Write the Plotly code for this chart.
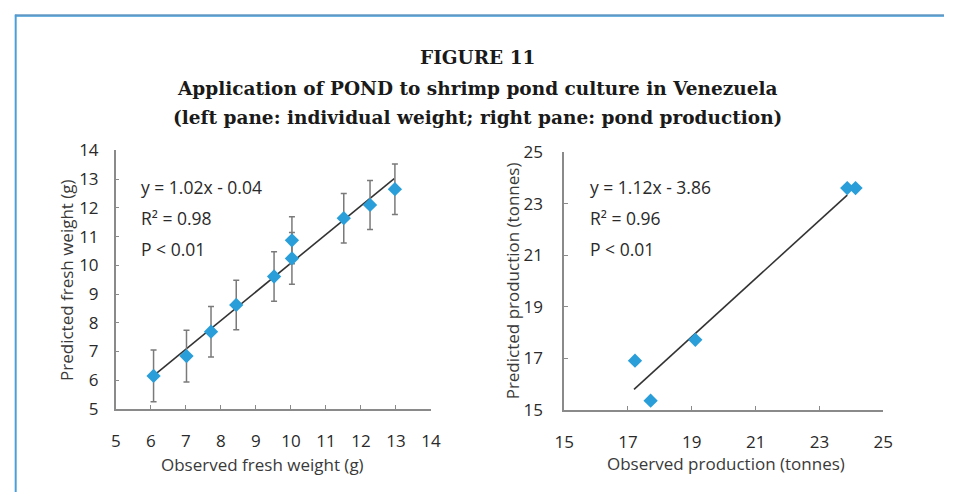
import plotly.graph_objects as go

# ---- data ----
obs_weight = [6.08, 7.02, 7.72, 8.44, 9.52, 10.03, 10.03, 11.51, 12.26, 12.97]
pred_weight = [6.15, 6.84, 7.69, 8.62, 9.61, 10.87, 10.24, 11.64, 12.10, 12.65]
err_weight = [0.90, 0.90, 0.88, 0.86, 0.86, 0.82, 0.90, 0.86, 0.85, 0.88]
fit_weight_x = [6.10, 12.95]
fit_weight_y = [6.18, 13.02]

obs_prod = [17.22, 17.71, 19.11, 23.87, 24.13]
pred_prod = [16.91, 15.36, 17.72, 23.61, 23.61]
fit_prod_x = [17.19, 23.87]
fit_prod_y = [15.80, 23.34]

weight_ticks = list(range(5, 15))
prod_ticks = [15, 17, 19, 21, 23, 25]

title_lines = ["FIGURE 11",
               "Application of POND to shrimp pond culture in Venezuela",
               "(left pane: individual weight; right pane: pond production)"]
left_stats = ["y = 1.02x - 0.04", "R\u00b2 = 0.98", "P < 0.01"]
right_stats = ["y = 1.12x - 3.86", "R\u00b2 = 0.96", "P < 0.01"]
left_titles = ["Observed fresh weight (g)", "Predicted fresh weight (g)"]
right_titles = ["Observed production (tonnes)", "Predicted production (tonnes)"]

W, H = 954, 503
BLUE = "#2a9ed8"
AX = "#8a8a8a"
TXT = "#2a2a2a"
FONT = "Open Sans"

fig = go.Figure()

fig.add_trace(go.Scatter(x=fit_weight_x, y=fit_weight_y, mode="lines",
                         line=dict(color="#333333", width=1.6),
                         xaxis="x", yaxis="y", showlegend=False, hoverinfo="skip"))
fig.add_trace(go.Scatter(x=obs_weight, y=pred_weight, mode="markers",
                         marker=dict(symbol="diamond", size=11, color=BLUE),
                         error_y=dict(type="data", array=err_weight, visible=True,
                                      color="#7a7a7a", thickness=1.5, width=3),
                         xaxis="x", yaxis="y", showlegend=False))

fig.add_trace(go.Scatter(x=fit_prod_x, y=fit_prod_y, mode="lines",
                         line=dict(color="#333333", width=1.6),
                         xaxis="x2", yaxis="y2", showlegend=False, hoverinfo="skip"))
fig.add_trace(go.Scatter(x=obs_prod, y=pred_prod, mode="markers",
                         marker=dict(symbol="diamond", size=11, color=BLUE),
                         xaxis="x2", yaxis="y2", showlegend=False))


def px(x):
    return x / W


def py(y):
    return 1 - y / H


axis_common = dict(showgrid=False, zeroline=False, showline=True, linecolor=AX,
                   linewidth=1.5, ticks="inside", ticklen=4, tickcolor=AX,
                   tickwidth=1, tickfont=dict(family=FONT, size=17, color=TXT))

fig.update_layout(
    width=W, height=H, margin=dict(l=0, r=0, t=0, b=0),
    paper_bgcolor="white", plot_bgcolor="white",
    xaxis=dict(domain=[px(108), px(430)], range=[5, 14], tickvals=weight_ticks,
               anchor="y", ticklabelstandoff=16, **axis_common),
    yaxis=dict(domain=[py(416), py(145)], range=[5, 14], tickvals=weight_ticks,
               anchor="x", ticklabelstandoff=12, **axis_common),
    xaxis2=dict(domain=[px(566), px(892)], range=[15, 25], tickvals=prod_ticks,
                anchor="y2", ticklabelstandoff=16, **axis_common),
    yaxis2=dict(domain=[py(417), py(147)], range=[15, 25], tickvals=prod_ticks,
                anchor="x2", ticklabelstandoff=16, **axis_common),
)

annotations = []
title_y = [48, 80, 111]
for t, yy in zip(title_lines, title_y):
    annotations.append(dict(text="<b>" + t + "</b>", x=0.5, y=py(yy), xref="paper", yref="paper",
                            xanchor="center", yanchor="middle", showarrow=False,
                            font=dict(family="DejaVu Serif", size=18.5, color="#1a1a1a")))
stat_y = [183, 216, 248]
for t, yy in zip(left_stats, stat_y):
    annotations.append(dict(text=t, x=px(132), y=py(yy), xref="paper", yref="paper",
                            xanchor="left", yanchor="middle", showarrow=False,
                            font=dict(family=FONT, size=17.5, color=TXT)))
for t, yy in zip(right_stats, stat_y):
    annotations.append(dict(text=t, x=px(590), y=py(yy), xref="paper", yref="paper",
                            xanchor="left", yanchor="middle", showarrow=False,
                            font=dict(family=FONT, size=17.5, color=TXT)))
# axis titles
title_font = dict(family=FONT, size=17, color="#3a3a3a")
annotations.append(dict(text=left_titles[0], x=px(258), y=py(474), xref="paper", yref="paper",
                        xanchor="center", yanchor="middle", showarrow=False, font=title_font))
annotations.append(dict(text=left_titles[1], x=px(57), y=py(281), xref="paper", yref="paper",
                        xanchor="center", yanchor="middle", showarrow=False, textangle=-90,
                        font=title_font))
annotations.append(dict(text=right_titles[0], x=px(731), y=py(473), xref="paper", yref="paper",
                        xanchor="center", yanchor="middle", showarrow=False, font=title_font))
annotations.append(dict(text=right_titles[1], x=px(513), y=py(282), xref="paper", yref="paper",
                        xanchor="center", yanchor="middle", showarrow=False, textangle=-90,
                        font=title_font))
fig.update_layout(annotations=annotations)

# page frame (top and left border)
fig.update_layout(shapes=[
    dict(type="line", xref="paper", yref="paper", x0=px(5), x1=1, y0=py(3.2), y1=py(3.2),
         line=dict(color="#1f6aa8", width=1.3)),
    dict(type="line", xref="paper", yref="paper", x0=px(5), x1=1, y0=py(4.6), y1=py(4.6),
         line=dict(color="#6fb3e0", width=1.2)),
    dict(type="line", xref="paper", yref="paper", x0=px(5.8), x1=px(5.8), y0=py(3), y1=0,
         line=dict(color="#4a9fd8", width=2)),
])

fig.write_html("out.html", config={"displayModeBar": False},
               post_script="document.body.style.margin='0';document.body.style.overflow='hidden';")
